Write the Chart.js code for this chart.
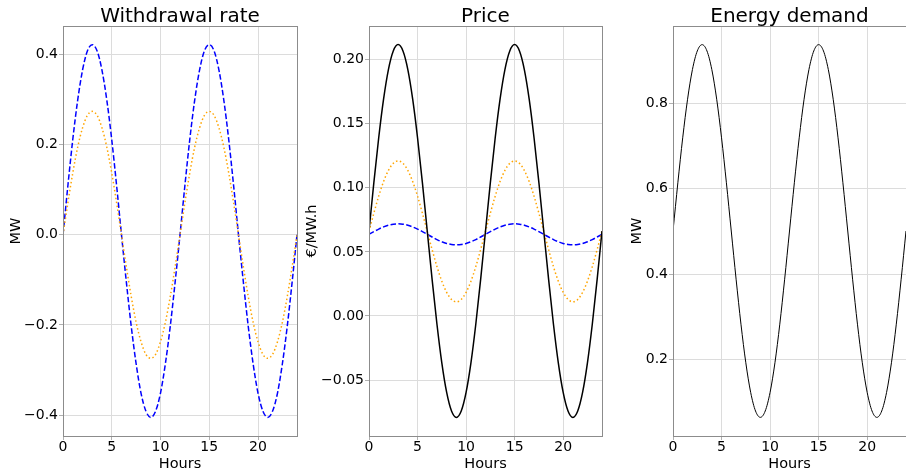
<!DOCTYPE html>
<html>
<head>
<meta charset="utf-8">
<script src="https://cdn.jsdelivr.net/npm/chart.js@4/dist/chart.umd.min.js"></script>
<style>
  html, body { margin: 0; padding: 0; background: #fff; overflow: hidden; }
  #wrap { position: relative; width: 906px; height: 470px; }
  canvas { position: absolute; top: 0; }
</style>
</head>
<body>
<div id="wrap">
  <canvas id="withdrawalChart" width="300" height="470" style="left:0px"></canvas>
  <canvas id="priceChart" width="310" height="470" style="left:296px"></canvas>
  <canvas id="demandChart" width="285" height="470" style="left:621px"></canvas>
</div>
<script>
// hours, half-hour steps
const hours = [
  0, 0.5, 1, 1.5, 2, 2.5, 3, 3.5, 4, 4.5, 5, 5.5, 6, 6.5, 7, 7.5, 8, 8.5,
  9, 9.5, 10, 10.5, 11, 11.5, 12, 12.5, 13, 13.5, 14, 14.5, 15, 15.5, 16,
  16.5, 17, 17.5, 18, 18.5, 19, 19.5, 20, 20.5, 21, 21.5, 22, 22.5, 23,
  23.5, 24,
];
const hourTicks = [0, 5, 10, 15, 20];

// Withdrawal rate (MW)
const withdrawalBlue = [
  0, 0.109, 0.211, 0.298, 0.365, 0.408, 0.422, 0.408, 0.365, 0.298, 0.211, 0.109,
  0, -0.105, -0.203, -0.286, -0.351, -0.391, -0.405, -0.391, -0.351, -0.286, -0.203, -0.105,
  0, 0.109, 0.211, 0.298, 0.365, 0.408, 0.422, 0.408, 0.365, 0.298, 0.211, 0.109,
  0, -0.105, -0.203, -0.286, -0.351, -0.391, -0.405, -0.391, -0.351, -0.286, -0.203, -0.105,
  0,
];
const withdrawalOrange = [
  0, 0.071, 0.137, 0.194, 0.237, 0.265, 0.274, 0.265, 0.237, 0.194, 0.137, 0.071,
  0, -0.071, -0.137, -0.194, -0.237, -0.265, -0.274, -0.265, -0.237, -0.194, -0.137, -0.071,
  0, 0.071, 0.137, 0.194, 0.237, 0.265, 0.274, 0.265, 0.237, 0.194, 0.137, 0.071,
  0, -0.071, -0.137, -0.194, -0.237, -0.265, -0.274, -0.265, -0.237, -0.194, -0.137, -0.071,
  0,
];
const withdrawalTicks = [-0.4, -0.2, 0, 0.2, 0.4];

// Price (€/MW.h)
const priceBlack = [
  0.0663, 0.1040, 0.1391, 0.1692, 0.1923, 0.2068, 0.2118, 0.2068, 0.1923, 0.1692, 0.1391, 0.1040,
  0.0663, 0.0286, -0.0065, -0.0366, -0.0597, -0.0742, -0.0792, -0.0742, -0.0597, -0.0366, -0.0065, 0.0286,
  0.0663, 0.1040, 0.1391, 0.1692, 0.1923, 0.2068, 0.2118, 0.2068, 0.1923, 0.1692, 0.1391, 0.1040,
  0.0663, 0.0286, -0.0065, -0.0366, -0.0597, -0.0742, -0.0792, -0.0742, -0.0597, -0.0366, -0.0065, 0.0286,
  0.0663,
];
const priceOrange = [
  0.066, 0.0802, 0.0935, 0.1049, 0.1136, 0.1191, 0.121, 0.1191, 0.1136, 0.1049, 0.0935, 0.0802,
  0.066, 0.0518, 0.0385, 0.0271, 0.0184, 0.0129, 0.011, 0.0129, 0.0184, 0.0271, 0.0385, 0.0518,
  0.066, 0.0802, 0.0935, 0.1049, 0.1136, 0.1191, 0.121, 0.1191, 0.1136, 0.1049, 0.0935, 0.0802,
  0.066, 0.0518, 0.0385, 0.0271, 0.0184, 0.0129, 0.011, 0.0129, 0.0184, 0.0271, 0.0385, 0.0518,
  0.066,
];
const priceBlue = [
  0.0637, 0.0658, 0.0678, 0.0695, 0.0708, 0.0716, 0.0719, 0.0716, 0.0708, 0.0695, 0.0678, 0.0658,
  0.0637, 0.0616, 0.0596, 0.0579, 0.0566, 0.0558, 0.0555, 0.0558, 0.0566, 0.0579, 0.0596, 0.0616,
  0.0637, 0.0658, 0.0678, 0.0695, 0.0708, 0.0716, 0.0719, 0.0716, 0.0708, 0.0695, 0.0678, 0.0658,
  0.0637, 0.0616, 0.0596, 0.0579, 0.0566, 0.0558, 0.0555, 0.0558, 0.0566, 0.0579, 0.0596, 0.0616,
  0.0637,
];
const priceTicks = [-0.05, 0, 0.05, 0.1, 0.15, 0.2];

// Energy demand (MW)
const demand = [
  0.501, 0.6141, 0.7195, 0.81, 0.8794, 0.9231, 0.938, 0.9231, 0.8794, 0.81, 0.7195, 0.6141,
  0.501, 0.3879, 0.2825, 0.192, 0.1226, 0.0789, 0.064, 0.0789, 0.1226, 0.192, 0.2825, 0.3879,
  0.501, 0.6141, 0.7195, 0.81, 0.8794, 0.9231, 0.938, 0.9231, 0.8794, 0.81, 0.7195, 0.6141,
  0.501, 0.3879, 0.2825, 0.192, 0.1226, 0.0789, 0.064, 0.0789, 0.1226, 0.192, 0.2825, 0.3879,
  0.501,
];
const demandTicks = [0.2, 0.4, 0.6, 0.8];

const FONT = "'DejaVu Sans', sans-serif";
const GRID = "#dcdcdc";
const SPINE = "#8c8c8c";

const spinePlugin = {
  id: "spines",
  afterDraw(chart) {
    const { ctx, chartArea: a } = chart;
    ctx.save();
    ctx.strokeStyle = SPINE;
    ctx.lineWidth = 1;
    ctx.strokeRect(Math.round(a.left) + 0.5, Math.round(a.top) + 0.5,
      Math.round(a.right - a.left), Math.round(a.bottom - a.top));
    ctx.restore();
  },
};

function points(ys) {
  return hours.map((h, i) => ({ x: h, y: ys[i] }));
}

function fmt(decimals) {
  return (v) => (v < 0 ? "\u2212" : "") + Math.abs(v).toFixed(decimals);
}

function line(ys, color, dash, width) {
  return {
    data: points(ys),
    borderColor: color,
    borderWidth: width,
    borderDash: dash,
    borderCapStyle: "butt",
    pointRadius: 0,
    cubicInterpolationMode: "monotone",
    fill: false,
  };
}

function makeChart(id, cfg) {
  new Chart(document.getElementById(id), {
    type: "line",
    data: { datasets: cfg.datasets },
    plugins: [spinePlugin],
    options: {
      responsive: false,
      animation: false,
      layout: { padding: { top: 0, bottom: 0, left: 0, right: cfg.padRight } },
      plugins: {
        legend: { display: false },
        tooltip: { enabled: false },
        title: {
          display: true,
          text: cfg.title,
          fullSize: false,
          color: "#000",
          font: { family: FONT, size: 20, weight: "normal", lineHeight: "18px" },
          padding: { top: 8, bottom: 0 },
        },
      },
      scales: {
        x: {
          type: "linear",
          min: 0,
          max: 24,
          afterBuildTicks: (s) => { s.ticks = hourTicks.map((v) => ({ value: v })); },
          afterFit: (s) => { s.height = 34; },
          grid: { color: GRID, tickColor: "#b0b0b0", tickLength: 4 },
          border: { display: false },
          ticks: { color: "#000", padding: 0, maxRotation: 0,
            font: { family: FONT, size: 14, lineHeight: 1 } },
          title: { display: true, text: "Hours", color: "#000",
            font: { family: FONT, size: 14.5, lineHeight: 0.75 }, padding: { top: 0, bottom: 0 } },
        },
        y: {
          type: "linear",
          min: cfg.yMin,
          max: cfg.yMax,
          afterBuildTicks: (s) => { s.ticks = cfg.yTicks.map((v) => ({ value: v })); },
          afterFit: (s) => { s.width = cfg.yWidth; },
          grid: { color: GRID, tickColor: "#b0b0b0", tickLength: 4 },
          border: { display: false },
          ticks: { color: "#000", padding: 1, callback: fmt(cfg.decimals),
            font: { family: FONT, size: 14 } },
          title: { display: true, text: cfg.yTitle, color: "#000",
            font: { family: FONT, size: 14.5, lineHeight: 1.2 }, padding: { top: 8, bottom: 0 } },
        },
      },
    },
  });
}

makeChart("withdrawalChart", {
  title: "Withdrawal rate",
  yTitle: "MW",
  yMin: -0.4463,
  yMax: 0.4634,
  yTicks: withdrawalTicks,
  decimals: 1,
  yWidth: 63,
  padRight: 3,
  datasets: [
    line(withdrawalOrange, "#ffa500", [1.5, 2.5], 1.5),
    line(withdrawalBlue, "#0000ff", [5.5, 2.4], 1.5),
  ],
});

makeChart("priceChart", {
  title: "Price",
  yTitle: "\u20ac/MW.h",
  yMin: -0.0937,
  yMax: 0.2263,
  yTicks: priceTicks,
  decimals: 2,
  yWidth: 73,
  padRight: 4,
  datasets: [
    line(priceBlack, "#000000", [], 1.5),
    line(priceOrange, "#ffa500", [1.5, 2.5], 1.5),
    line(priceBlue, "#0000ff", [5.5, 2.4], 1.5),
  ],
});

makeChart("demandChart", {
  title: "Energy demand",
  yTitle: "MW",
  yMin: 0.0203,
  yMax: 0.9817,
  yTicks: demandTicks,
  decimals: 1,
  yWidth: 52,
  padRight: 0,
  datasets: [
    line(demand, "#000000", [], 1),
  ],
});
</script>
</body>
</html>
